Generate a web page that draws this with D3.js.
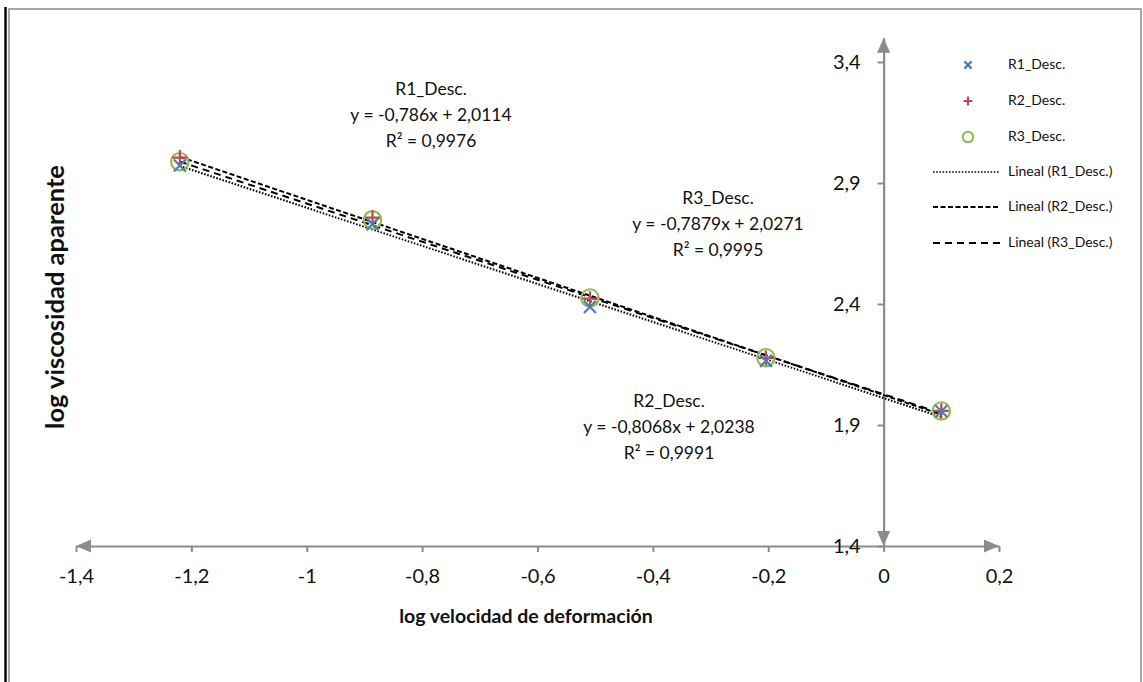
<!DOCTYPE html>
<html>
<head>
<meta charset="utf-8">
<script src="https://cdn.jsdelivr.net/npm/d3@7"></script>
<style>
  html, body { margin: 0; padding: 0; background: #fff; }
  svg { display: block; }
  text { font-family: Lato, "Open Sans", "DejaVu Sans", sans-serif; fill: #111; }
</style>
</head>
<body>
<svg id="chart" width="1143" height="682"></svg>
<script>
// ---------- data ----------
const xValues = [-1.22, -0.886, -0.509, -0.204, 0.1];
const seriesNames = ["R1_Desc.", "R2_Desc.", "R3_Desc."];
const r1Values = [2.972, 2.730, 2.388, 2.165, 1.957];
const r2Values = [3.005, 2.757, 2.422, 2.177, 1.958];
const r3Values = [2.988, 2.748, 2.425, 2.178, 1.958];
const slopes = [-0.786, -0.8068, -0.7879];
const intercepts = [2.0114, 2.0238, 2.0271];
const r2Text = ["0,9976", "0,9991", "0,9995"];
const eqText = ["y = -0,786x + 2,0114", "y = -0,8068x + 2,0238", "y = -0,7879x + 2,0271"];
const xTicks = [-1.4, -1.2, -1.0, -0.8, -0.6, -0.4, -0.2, 0, 0.2];
const yTicks = [1.4, 1.9, 2.4, 2.9, 3.4];
const xDomain = [-1.4, 0.2];
const yDomain = [1.4, 3.5];
const legendTrend = ["Lineal (R1_Desc.)", "Lineal (R2_Desc.)", "Lineal (R3_Desc.)"];
const xTitle = "log velocidad de deformación";
const yTitle = "log viscosidad aparente";

const series = [r1Values, r2Values, r3Values];
const colors = ["#4a7ebb", "#be4b48", "#98b954"];
const dashes = ["1.6,1.6", "5,2.5", "7,5"];
const fmt = v => String(+v.toFixed(2)).replace(".", ",");

const svg = d3.select("#chart");
const axisColor = "#8c8c8c";

// ---------- frame ----------
svg.append("line").attr("x1", 5.5).attr("x2", 5.5).attr("y1", 7).attr("y2", 682)
  .attr("stroke", "#000").attr("stroke-width", 2.5);
svg.append("path").attr("d", "M9,682 V9 H1141 V682")
  .attr("fill", "none").attr("stroke", "#a6a6a6").attr("stroke-width", 2);

// ---------- scales ----------
const x = d3.scaleLinear().domain(xDomain).range([76, 999]);
const y = d3.scaleLinear().domain(yDomain).range([546, 546 - 2.1 * 242]);

// ---------- x axis ----------
const gx = svg.append("g").attr("transform", `translate(0,${y(1.4)})`)
  .call(d3.axisBottom(x).tickValues(xTicks).tickSize(6).tickPadding(17).tickFormat(fmt).tickSizeOuter(0));
gx.select(".domain").attr("stroke", axisColor).attr("stroke-width", 2.2);
gx.selectAll(".tick line").attr("stroke", axisColor).attr("stroke-width", 2);
gx.selectAll(".tick text").attr("font-size", 20).attr("fill", "#111")
  .style("font-family", "Lato, 'Open Sans', sans-serif");

// ---------- y axis ----------
const gy = svg.append("g").attr("transform", `translate(${x(0)},0)`)
  .call(d3.axisLeft(y).tickValues(yTicks).tickSize(6).tickPadding(17).tickFormat(fmt).tickSizeOuter(0));
gy.select(".domain").attr("stroke", axisColor).attr("stroke-width", 2.2);
gy.selectAll(".tick line").attr("stroke", axisColor).attr("stroke-width", 2);
gy.selectAll(".tick text").attr("font-size", 20).attr("fill", "#111")
  .style("font-family", "Lato, 'Open Sans', sans-serif");

// ---------- arrow heads ----------
const ah = 15, aw = 6.5;
const arrows = svg.append("g").attr("fill", axisColor);
const xl = x(xDomain[0]), xr = x(xDomain[1]), ya = y(yDomain[0]);
arrows.append("path").attr("d", `M${xl},${ya} L${xl + ah},${ya - aw} L${xl + ah},${ya + aw} Z`);
arrows.append("path").attr("d", `M${xr},${ya} L${xr - ah},${ya - aw} L${xr - ah},${ya + aw} Z`);
const xa = x(0), yt = y(yDomain[1]), yb = y(yDomain[0]);
arrows.append("path").attr("d", `M${xa},${yt} L${xa - aw},${yt + ah} L${xa + aw},${yt + ah} Z`);
arrows.append("path").attr("d", `M${xa},${yb} L${xa - aw},${yb - ah} L${xa + aw},${yb - ah} Z`);

// ---------- trend lines ----------
const xMin = d3.min(xValues), xMax = d3.max(xValues);
const trends = svg.append("g");
slopes.forEach((m, i) => {
  trends.append("line")
    .attr("x1", x(xMin)).attr("y1", y(m * xMin + intercepts[i]))
    .attr("x2", x(xMax)).attr("y2", y(m * xMax + intercepts[i]))
    .attr("stroke", "#000").attr("stroke-width", 2)
    .attr("stroke-dasharray", dashes[i]);
});

// ---------- markers ----------
function drawMarker(g, type, cx, cy, s, color) {
  if (type === 0) {
    g.append("path").attr("d", `M${cx - s},${cy - s} L${cx + s},${cy + s} M${cx - s},${cy + s} L${cx + s},${cy - s}`)
      .attr("stroke", color).attr("stroke-width", 2.2).attr("fill", "none");
  } else if (type === 1) {
    const t = s * 1.25;
    g.append("path").attr("d", `M${cx - t},${cy} L${cx + t},${cy} M${cx},${cy - t} L${cx},${cy + t}`)
      .attr("stroke", color).attr("stroke-width", 2.2).attr("fill", "none");
  } else {
    g.append("circle").attr("cx", cx).attr("cy", cy).attr("r", s * 1.45)
      .attr("stroke", color).attr("stroke-width", 2.2).attr("fill", "none");
  }
}
const pts = svg.append("g");
[2, 1, 0].forEach(i => {
  series[i].forEach((v, j) => drawMarker(pts, i, x(xValues[j]), y(v), 6, colors[i]));
});

// ---------- equation labels ----------
const labelPos = [[431, 91], [669, 403], [718, 200]];
const ann = svg.append("g").attr("font-size", 17.5).attr("text-anchor", "middle");
seriesNames.forEach((n, i) => {
  const [lx, ly] = labelPos[i];
  const t = ann.append("text").attr("x", lx).attr("y", ly).attr("dominant-baseline", "middle");
  t.append("tspan").attr("x", lx).attr("dy", 0).text(n);
  t.append("tspan").attr("x", lx).attr("dy", 26).text(eqText[i]);
  t.append("tspan").attr("x", lx).attr("dy", 26).text("R² = " + r2Text[i]);
});

// ---------- axis titles ----------
svg.append("text").attr("x", 526).attr("y", 618).attr("text-anchor", "middle")
  .attr("dominant-baseline", "middle").attr("font-size", 19.5).attr("font-weight", "bold").text(xTitle);
svg.append("text").attr("transform", "translate(57,297) rotate(-90)").attr("text-anchor", "middle")
  .attr("dominant-baseline", "middle").attr("font-size", 25.5).attr("font-weight", "bold").text(yTitle);

// ---------- legend ----------
const leg = svg.append("g").attr("font-size", 14);
const rowY = [65, 101, 137, 172, 207, 243];
seriesNames.forEach((n, i) => {
  drawMarker(leg, i, 968, rowY[i], 3.6, colors[i]);
  leg.append("text").attr("x", 1008).attr("y", rowY[i]).attr("dominant-baseline", "middle").text(n);
});
legendTrend.forEach((n, i) => {
  const ry = rowY[i + 3];
  leg.append("line").attr("x1", 933).attr("x2", 1000).attr("y1", ry).attr("y2", ry)
    .attr("stroke", "#000").attr("stroke-width", i === 0 ? 1.4 : 1.8).attr("stroke-dasharray", dashes[i]);
  leg.append("text").attr("x", 1008).attr("y", ry).attr("dominant-baseline", "middle").text(n);
});
</script>
</body>
</html>
